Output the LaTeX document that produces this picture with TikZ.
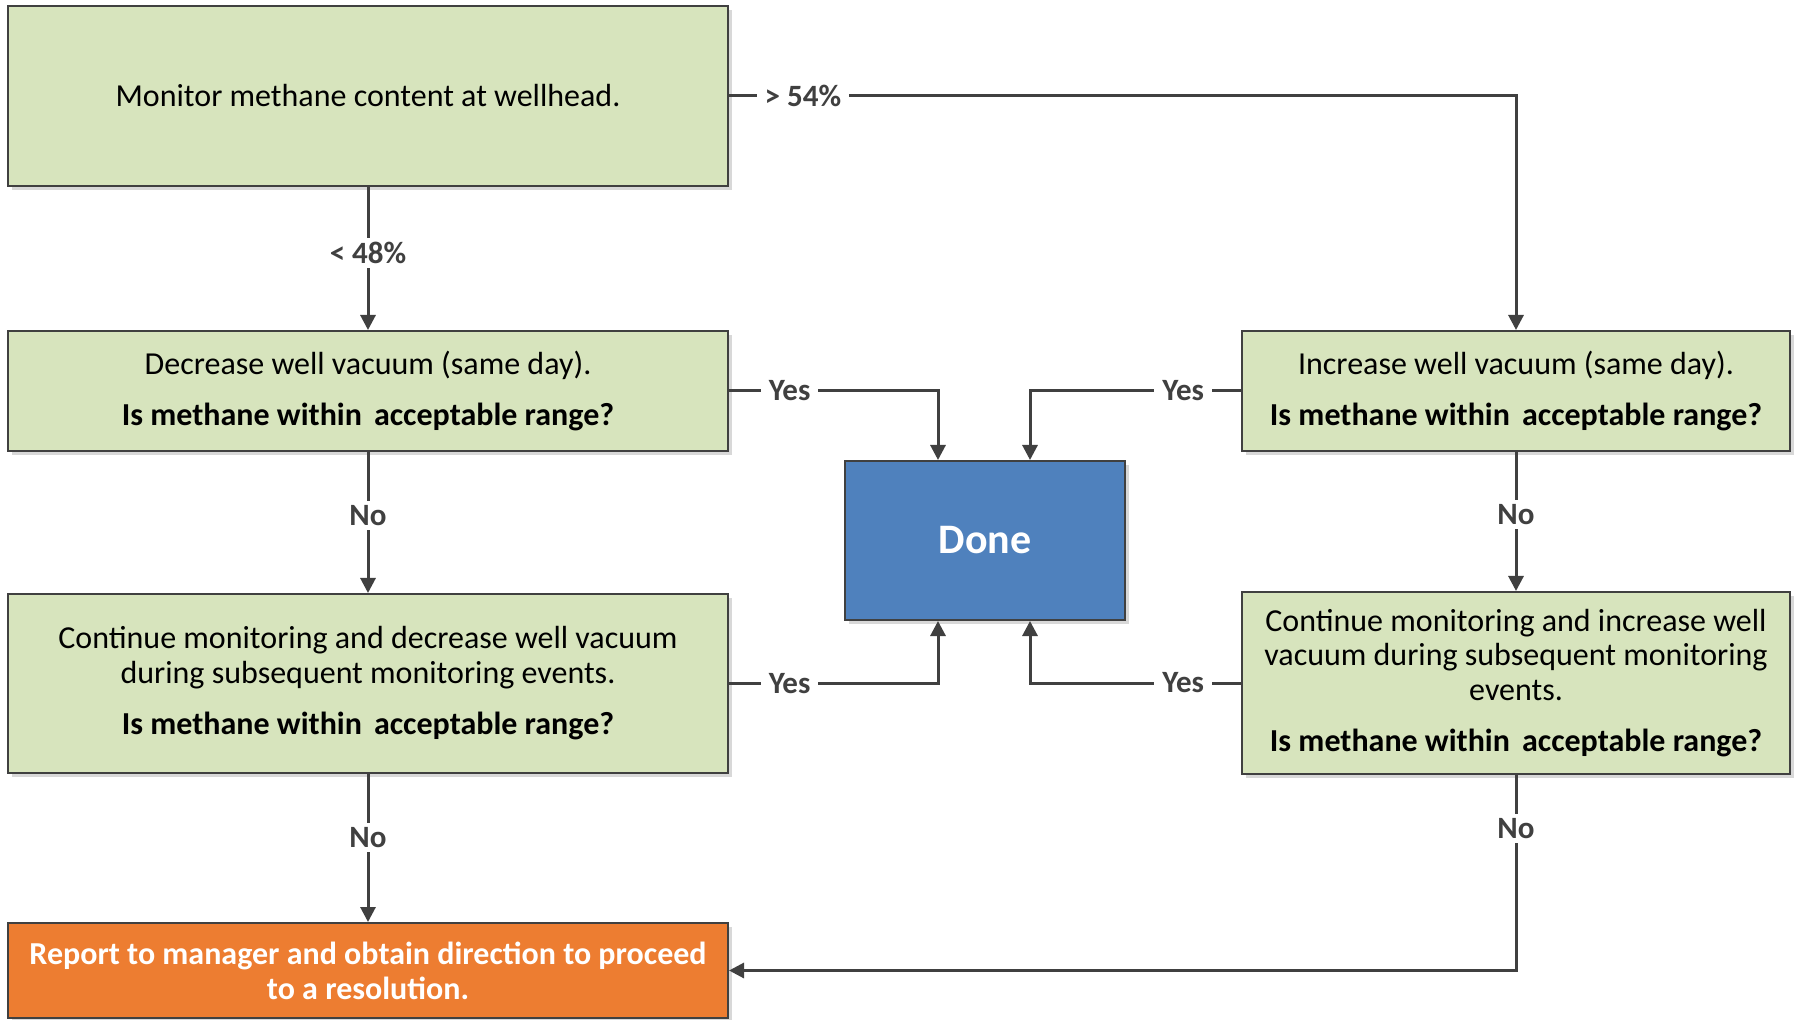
\documentclass[tikz,border=0pt]{standalone}
\usepackage{fontspec}
\setmainfont{Carlito}
\usetikzlibrary{arrows.meta,shadows}
\definecolor{boxgreen}{HTML}{D7E4BD}
\definecolor{edgegray}{HTML}{404040}
\definecolor{doneblue}{HTML}{4F81BD}
\definecolor{reporange}{HTML}{ED7D31}
\begin{document}
\begin{tikzpicture}[x=0.5pt,y=-0.5pt,
  shade/.style={drop shadow={shadow xshift=2pt,shadow yshift=-2pt,opacity=0.3}},
  box/.style={draw=edgegray,line width=1pt,fill=boxgreen,minimum width=360pt,
    align=center,inner sep=0pt,font=\fontsize{16}{17.3}\selectfont,shade},
  conn/.style={draw=edgegray,line width=1.5pt},
  arr/.style={conn,-{Triangle[length=7.5pt,width=7.5pt]}},
  lbl/.style={fill=white,text=edgegray,font=\bfseries\fontsize{15.5}{18}\selectfont,
    inner xsep=4pt,inner ysep=2pt}]
\useasboundingbox (0,0) rectangle (1797,1020);
\fill[white] (0,0) rectangle (1797,1020);

\node[box,minimum height=90pt] (b1) at (368,96) {Monitor methane content at wellhead.};
\node[box,minimum height=60pt] (b2) at (368,391)
  {Decrease well vacuum (same day).\\[8.4pt]\textbf{Is methane within\hspace{0.15em} acceptable range?}};
\node[box,minimum height=89.5pt] (b3) at (368,683.5)
  {Continue monitoring and decrease well vacuum\\during subsequent monitoring events.\\[8.4pt]\textbf{Is methane within\hspace{0.15em} acceptable range?}};
\node[box,minimum height=47.5pt,fill=reporange,text=white,font=\bfseries\fontsize{16}{17.5}\selectfont] (rep) at (368,970.5)
  {Report to manager and obtain direction to proceed\\to a resolution.};
\node[box,minimum width=140pt,minimum height=79.5pt,fill=doneblue,text=white,font=\bfseries\fontsize{21}{25}\selectfont] (done) at (985,540.5) {Done};
\node[box,minimum width=274pt,minimum height=60pt] (r1) at (1516,391)
  {Increase well vacuum (same day).\\[8.4pt]\textbf{Is methane within\hspace{0.15em} acceptable range?}};
\node[box,minimum width=274pt,minimum height=91pt] (r2) at (1516,683)
  {Continue monitoring and increase well\\vacuum during subsequent monitoring\\events.\\[8.4pt]\textbf{Is methane within\hspace{0.15em} acceptable range?}};

\draw[arr] (b1.east) -| node[lbl,pos=0.047] {> 54\%} (r1.north);
\draw[arr] (b1.south) -- node[lbl,pos=0.46] {< 48\%} (b2.north);
\draw[arr] (b2.south) -- node[lbl,pos=0.45] {No} (b3.north);
\draw[arr] (b3.south) -- node[lbl,pos=0.43] {No} (rep.north);
\draw[arr] (r1.south) -- node[lbl,pos=0.45] {No} (r2.north);
\draw[arr] (r2.south) |- node[lbl,pos=0.137] {No} (rep.east);
\draw[arr] (b2.east) -| node[lbl,pos=0.145] {Yes} ([xshift=-23.5pt]done.north);
\draw[arr] (r1.west) -| node[lbl,pos=0.137] {Yes} ([xshift=22.5pt]done.north);
\draw[arr] (b3.east) -| node[lbl,pos=0.145] {Yes} ([xshift=-23.5pt]done.south);
\draw[arr] (r2.west) -| node[lbl,pos=0.137] {Yes} ([xshift=22.5pt]done.south);
\end{tikzpicture}
\end{document}
